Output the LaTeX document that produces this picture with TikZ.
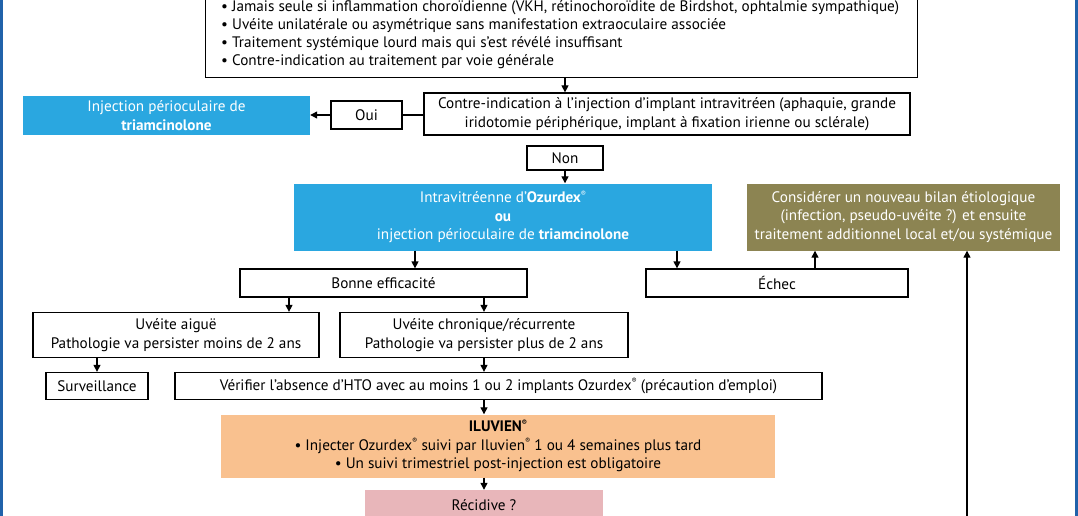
\documentclass[tikz,border=0pt]{standalone}
\usepackage{fontspec}
\setmainfont{PT Sans}
\usetikzlibrary{arrows.meta}
\definecolor{cyanbox}{HTML}{2AA7E0}
\definecolor{olivebox}{HTML}{8C8452}
\definecolor{orangebox}{HTML}{F9C18F}
\definecolor{pinkbox}{HTML}{E8B6BA}
\definecolor{edgeblue}{HTML}{2062AA}
\newcommand{\rg}{\raisebox{0.42em}{\fontsize{7.5}{7.5}\selectfont ®}}
\begin{document}
\begin{tikzpicture}[x=1pt,y=-1pt,
  font=\fontsize{15.2}{18.5}\selectfont,
  box/.style={draw=black, line width=1.3pt, inner sep=0pt, align=center, fill=white},
  fbox/.style={inner sep=0pt, align=center},
  arr/.style={line width=1.3pt, -{Triangle[length=7pt,width=7pt]}},
  ln/.style={line width=1.3pt}]
\useasboundingbox (0,0) rectangle (1078,516);
\clip (0,0) rectangle (1078,516);
\fill[white] (0,0) rectangle (1078,516);
\draw[edgeblue, line width=3pt] (1.5,-5) coordinate (el1) -- (1.5,525) coordinate (el2);
\draw[edgeblue, line width=3pt] (1076,-5) coordinate (er1) -- (1076,525) coordinate (er2);

% top box
\node[box, minimum width=712pt, minimum height=140pt, anchor=south west] (top) at (205,78) {};
\node[anchor=base west, inner sep=0pt] (t1) at (221,12) {• Jamais seule si inflammation choroïdienne (VKH, rétinochoroïdite de Birdshot, ophtalmie sympathique)};
\node[anchor=base west, inner sep=0pt] (t2) at (221,30) {• Uvéite unilatérale ou asymétrique sans manifestation extraoculaire associée};
\node[anchor=base west, inner sep=0pt] (t3) at (221,48) {• Traitement systémique lourd mais qui s’est révélé insuffisant};
\node[anchor=base west, inner sep=0pt] (t4) at (221,66) {• Contre-indication au traitement par voie générale};

\node[box, minimum width=486pt, minimum height=42pt] (contre) at (667,114) {Contre-indication à l’injection d’implant intravitréen (aphaquie, grande\\iridotomie périphérique, implant à fixation irienne ou sclérale)};
\node[box, minimum width=71pt, minimum height=28pt] (oui) at (366.5,115) {Oui};
\node[fbox, fill=cyanbox, text=white, minimum width=287pt, minimum height=39pt] (inj) at (166.5,115.5) {Injection périoculaire de\\\textbf{triamcinolone}};
\node[box, minimum width=76pt, minimum height=24pt] (non) at (565,158) {Non};

\node[fbox, fill=cyanbox, text=white, minimum width=418pt, minimum height=67pt] (ozu) at (503,217) {Intravitréenne d’\textbf{Ozurdex}\rg\\\textbf{ou}\\injection périoculaire de \textbf{triamcinolone}};
\node[fbox, fill=olivebox, text=white, minimum width=313pt, minimum height=67pt] (bilan) at (903.5,217) {Considérer un nouveau bilan étiologique\\(infection, pseudo-uvéite ?) et ensuite\\traitement additionnel local et/ou systémique};

\node[box, minimum width=287pt, minimum height=28pt] (bonne) at (383.5,283) {Bonne efficacité};
\node[box, minimum width=262pt, minimum height=28pt] (echec) at (777,283) {Échec};

\node[box, minimum width=286pt, minimum height=45pt] (aigue) at (176,335) {Uvéite aiguë\\Pathologie va persister moins de 2 ans};
\node[box, minimum width=288pt, minimum height=45pt] (chron) at (484,335) {Uvéite chronique/récurrente\\Pathologie va persister plus de 2 ans};

\node[box, minimum width=102pt, minimum height=27pt] (surv) at (97,386) {Surveillance};
\node[box, minimum width=647pt, minimum height=27pt] (verif) at (498.5,386) {Vérifier l’absence d’HTO avec au moins 1 ou 2 implants Ozurdex\rg{} (précaution d’emploi)};

\node[fbox, fill=orangebox, minimum width=554pt, minimum height=63pt] (iluv) at (498,446) {\textbf{ILUVIEN\rg}\\• Injecter Ozurdex\rg{} suivi par Iluvien\rg{} 1 ou 4 semaines plus tard\\• Un suivi trimestriel post-injection est obligatoire};
\node[fbox, fill=pinkbox, minimum width=238pt, minimum height=30pt] (recid) at (484,505) {Récidive ?};

\coordinate (offbottom) at (967,530);

% connectors
\draw[arr] (top.south -| non) -- (contre.north -| non);
\draw[ln] (contre.west |- oui) -- (oui.east);
\draw[arr] (oui.west) -- (oui.west -| inj.east);
\draw[arr] (non.south) -- (ozu.north -| non);
\draw[arr] (ozu.south -| 415,0) -- (bonne.north -| 415,0);
\draw[arr] (ozu.south -| 677,0) -- (echec.north -| 677,0);
\draw[arr] (echec.north -| 815,0) -- (bilan.south -| 815,0);
\draw[arr] (offbottom) -- (bilan.south -| offbottom);
\draw[arr] (bonne.south -| 289,0) -- (aigue.north -| 289,0);
\draw[arr] (bonne.south -| chron) -- (chron.north);
\draw[arr] (aigue.south -| surv) -- (surv.north);
\draw[arr] (chron.south) -- (verif.north -| chron);
\draw[arr] (verif.south -| chron) -- (iluv.north -| chron);
\draw[arr] (iluv.south -| recid) -- (recid.north);
\end{tikzpicture}
\end{document}
